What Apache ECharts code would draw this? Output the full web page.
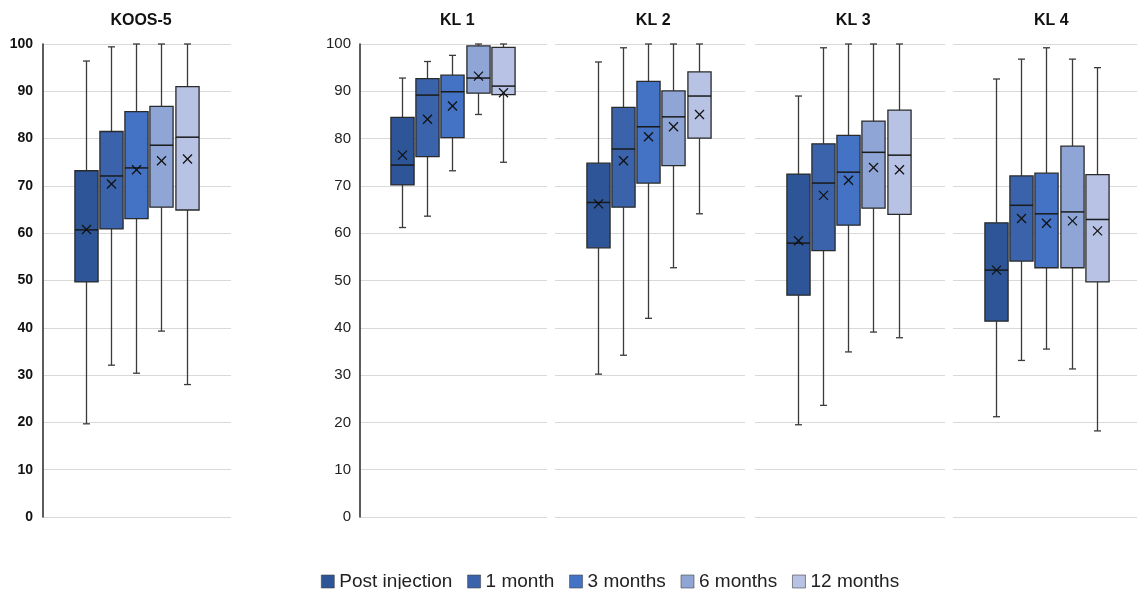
<!DOCTYPE html>
<html lang="en">
<head>
    <meta charset="UTF-8">
    <script src="https://cdn.jsdelivr.net/npm/echarts@6.0.0/dist/echarts.min.js"></script>
    <style>
        html, body { margin: 0; padding: 0; background: #fff; }
        #chart { width: 1137px; height: 589px; }
    </style>
</head>
<body>
<div id="chart"></div>
<script>
    // groups (legend) and panels
    var groups = ['Post injection', '1 month', '3 months', '6 months', '12 months'];
    var panels = ['KOOS-5', 'KL 1', 'KL 2', 'KL 3', 'KL 4'];

    // each row: [min, q1, median, q3, max, mean], one row per group
    var koos5 = [
        [19.7, 49.7, 60.7, 73.2, 96.4, 60.8],
        [32.1, 60.9, 72.1, 81.5, 99.4, 70.4],
        [30.4, 63.1, 73.8, 85.7, 100, 73.4],
        [39.3, 65.5, 78.6, 86.8, 100, 75.3],
        [28.0, 64.9, 80.3, 91.0, 100, 75.7]
    ];
    var kl1 = [
        [61.2, 70.2, 74.4, 84.5, 92.8, 76.5],
        [63.6, 76.2, 89.2, 92.7, 96.3, 84.1],
        [73.2, 80.2, 89.9, 93.4, 97.6, 86.9],
        [85.1, 89.6, 92.8, 99.6, 100, 93.2],
        [75.0, 89.3, 91.1, 99.3, 100, 89.7]
    ];
    var kl2 = [
        [30.2, 56.9, 66.5, 74.8, 96.2, 66.2],
        [34.2, 65.5, 77.8, 86.6, 99.2, 75.3],
        [42.0, 70.6, 82.5, 92.1, 100, 80.4],
        [52.7, 74.3, 84.6, 90.1, 100, 82.5],
        [64.1, 80.1, 89.0, 94.1, 100, 85.1]
    ];
    var kl3 = [
        [19.5, 46.9, 57.9, 72.5, 89.0, 58.4],
        [23.6, 56.3, 70.6, 78.9, 99.2, 68.0],
        [34.9, 61.7, 72.9, 80.7, 100, 71.2],
        [39.1, 65.3, 77.1, 83.7, 100, 73.9],
        [37.9, 64.0, 76.5, 86.0, 100, 73.4]
    ];
    var kl4 = [
        [21.2, 41.4, 52.2, 62.2, 92.6, 52.2],
        [33.1, 54.1, 65.9, 72.1, 96.8, 63.1],
        [35.5, 52.7, 64.1, 72.7, 99.2, 62.1],
        [31.3, 52.7, 64.5, 78.4, 96.8, 62.6],
        [18.2, 49.7, 62.9, 72.4, 95.0, 60.5]
    ];
    var panelData = [koos5, kl1, kl2, kl3, kl4];

    var colors = ['#2e5597', '#3a63ac', '#4472c4', '#8ea5d6', '#b7c2e4'];

    // layout: frame grid (gridlines + labels) and box grid (5 slots of ~25px)
    var frameLeft = [43, 360, 555, 755, 953];
    var frameWidth = [188, 187, 190, 190, 190];
    var boxCenter = [136.1, 452.4, 648.2, 848.2, 1046.4];
    var boxGridW = 126;
    var gridTop = 44, gridH = 473;

    var grids = [], xAxes = [], yAxes = [], titles = [], series = [];

    for (var p = 0; p < panels.length; p++) {
        // frame grid
        grids.push({ left: frameLeft[p], top: gridTop, width: frameWidth[p], height: gridH });
        xAxes.push({ gridIndex: grids.length - 1, type: 'value', min: 0, max: 1, show: false });
        yAxes.push({
            gridIndex: grids.length - 1, type: 'value', min: 0, max: 100, interval: 10,
            axisLine: { show: p < 2, lineStyle: { color: '#333', width: 1.6 } },
            axisTick: { show: false },
            axisLabel: {
                show: p < 2, margin: p === 0 ? 10 : 9, color: p === 0 ? '#111' : '#222',
                fontFamily: 'Liberation Sans, Arial, sans-serif',
                fontSize: p === 0 ? 14 : 15, fontWeight: p === 0 ? 'bold' : 'normal'
            },
            splitLine: { show: true, lineStyle: { color: '#d9d9d9', width: 1 } }
        });

        // box grid
        grids.push({ left: boxCenter[p] - boxGridW / 2, top: gridTop, width: boxGridW, height: gridH });
        var gi = grids.length - 1;
        xAxes.push({ gridIndex: gi, type: 'category', data: groups, show: false });
        yAxes.push({ gridIndex: gi, type: 'value', min: 0, max: 100, show: false });

        titles.push({
            text: panels[p], left: boxCenter[p], top: 8, textAlign: 'center',
            textStyle: { fontFamily: 'Liberation Sans, Arial, sans-serif', fontSize: 16, fontWeight: 'bold', color: '#111' }
        });

        for (var g = 0; g < groups.length; g++) {
            var r = panelData[p][g];
            series.push({
                name: groups[g],
                type: 'custom',
                xAxisIndex: gi,
                yAxisIndex: gi,
                itemStyle: { color: colors[g] },
                encode: { x: 0, y: [1, 2, 3, 4, 5, 6] },
                data: [[g, r[0], r[1], r[2], r[3], r[4], r[5]]],
                renderItem: renderBox
            });
        }
    }

    function renderBox(params, api) {
        var x = api.value(0);
        var pMin = api.coord([x, api.value(1)]);
        var pQ1 = api.coord([x, api.value(2)]);
        var pMed = api.coord([x, api.value(3)]);
        var pQ3 = api.coord([x, api.value(4)]);
        var pMax = api.coord([x, api.value(5)]);
        var pMean = api.coord([x, api.value(6)]);
        var cx = Math.round(pMin[0]) + 0.5;
        var bw = api.size([1, 0])[0] * 0.92;
        var half = bw / 2;
        var cap = 3.5;
        var k = 4.5;
        var lineStyle = { stroke: '#3a3a3a', lineWidth: 1.3 };
        var xStyle = { stroke: '#111', lineWidth: 1.3 };
        return {
            type: 'group',
            children: [
                { type: 'line', shape: { x1: cx, y1: pMax[1], x2: cx, y2: pQ3[1] }, style: lineStyle },
                { type: 'line', shape: { x1: cx, y1: pQ1[1], x2: cx, y2: pMin[1] }, style: lineStyle },
                { type: 'line', shape: { x1: cx - cap, y1: pMax[1], x2: cx + cap, y2: pMax[1] }, style: lineStyle },
                { type: 'line', shape: { x1: cx - cap, y1: pMin[1], x2: cx + cap, y2: pMin[1] }, style: lineStyle },
                {
                    type: 'rect',
                    shape: { x: cx - half, y: pQ3[1], width: bw, height: pQ1[1] - pQ3[1] },
                    style: { fill: api.visual('color'), stroke: '#2a2a2a', lineWidth: 1.3 }
                },
                { type: 'line', shape: { x1: cx - half, y1: pMed[1], x2: cx + half, y2: pMed[1] }, style: { stroke: '#1a1a1a', lineWidth: 1.5 } },
                { type: 'line', shape: { x1: cx - k, y1: pMean[1] - k, x2: cx + k, y2: pMean[1] + k }, style: xStyle },
                { type: 'line', shape: { x1: cx - k, y1: pMean[1] + k, x2: cx + k, y2: pMean[1] - k }, style: xStyle }
            ]
        };
    }

    var chart = echarts.init(document.getElementById('chart'));
    chart.setOption({
        animation: false,
        backgroundColor: '#fff',
        title: titles,
        legend: {
            data: groups,
            left: 316,
            top: 567,
            icon: 'rect',
            itemWidth: 13,
            itemHeight: 13,
            itemGap: 15,
            itemStyle: { borderColor: '#444', borderWidth: 0.6 },
            textStyle: { fontFamily: 'Liberation Sans, Arial, sans-serif', fontSize: 19, color: '#222' }
        },
        grid: grids,
        xAxis: xAxes,
        yAxis: yAxes,
        series: series
    });
</script>
</body>
</html>
